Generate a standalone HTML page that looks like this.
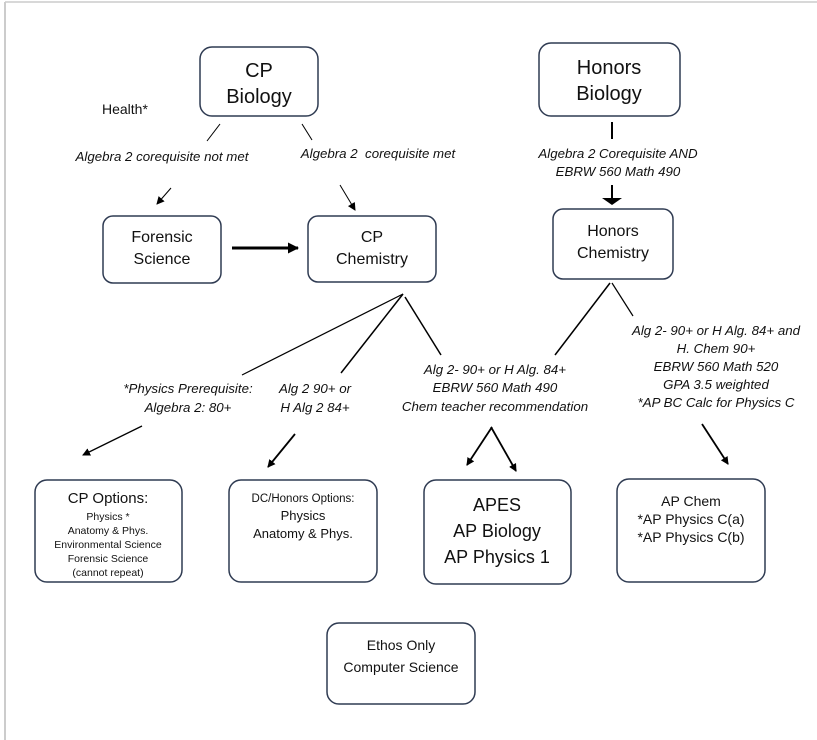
<!DOCTYPE html>
<html><head><meta charset="utf-8"><style>
body{margin:0;background:#fff;}
svg{display:block;font-family:"Liberation Sans",sans-serif;}
.b{fill:#fff;stroke:#2f3b52;stroke-width:1.5;}
.i{font-style:italic;font-size:13.3px;fill:#111;}
.t{fill:#111;}
</style></head><body>
<svg width="817" height="740" viewBox="0 0 817 740">
<defs>
<marker id="a" markerWidth="8" markerHeight="8" refX="7" refY="4" orient="auto" markerUnits="userSpaceOnUse"><path d="M0,0 L8,4 L0,8 z" fill="#000"/></marker>
<marker id="a2" markerWidth="11" markerHeight="11" refX="10" refY="5.5" orient="auto" markerUnits="userSpaceOnUse"><path d="M0,0 L11,5.5 L0,11 z" fill="#000"/></marker>
</defs>
<line x1="5" y1="2" x2="5" y2="740" stroke="#bbb" stroke-width="1.5"/>
<line x1="5" y1="2" x2="817" y2="2" stroke="#ccc" stroke-width="1.5"/>

<rect class="b" x="200" y="47" width="118" height="69" rx="12"/>
<text class="t" font-size="20" text-anchor="middle" x="259" y="77">CP</text>
<text class="t" font-size="20" text-anchor="middle" x="259" y="103">Biology</text>
<rect class="b" x="539" y="43" width="141" height="73" rx="12"/>
<text class="t" font-size="20" text-anchor="middle" x="609" y="74">Honors</text>
<text class="t" font-size="20" text-anchor="middle" x="609" y="100">Biology</text>
<text class="t" font-size="14" x="102" y="114">Health*</text>

<line x1="220" y1="124" x2="207" y2="141" stroke="#000"/>
<line x1="302" y1="124" x2="312" y2="140" stroke="#000"/>
<text class="i" text-anchor="middle" x="162" y="161">Algebra 2 corequisite not met</text>
<text class="i" text-anchor="middle" x="378" y="158">Algebra 2&#160; corequisite met</text>
<line x1="171" y1="188" x2="157" y2="204" stroke="#000" marker-end="url(#a)"/>
<line x1="340" y1="185" x2="355" y2="210" stroke="#000" marker-end="url(#a)"/>

<line x1="612" y1="122" x2="612" y2="139" stroke="#000" stroke-width="2"/>
<text class="i" text-anchor="middle" x="618" y="158">Algebra 2 Corequisite AND</text>
<text class="i" text-anchor="middle" x="618" y="176">EBRW 560 Math 490</text>
<line x1="612" y1="185" x2="612" y2="198" stroke="#000" stroke-width="2"/>
<path d="M602,198 L622,198 L612,205 z" fill="#000"/>

<rect class="b" x="103" y="216" width="118" height="67" rx="10"/>
<text class="t" font-size="16" text-anchor="middle" x="162" y="242">Forensic</text>
<text class="t" font-size="16" text-anchor="middle" x="162" y="264">Science</text>
<line x1="232" y1="248" x2="298" y2="248" stroke="#000" stroke-width="3" marker-end="url(#a2)"/>
<rect class="b" x="308" y="216" width="128" height="66" rx="10"/>
<text class="t" font-size="16" text-anchor="middle" x="372" y="242">CP</text>
<text class="t" font-size="16" text-anchor="middle" x="372" y="264">Chemistry</text>
<rect class="b" x="553" y="209" width="120" height="70" rx="10"/>
<text class="t" font-size="16" text-anchor="middle" x="613" y="236">Honors</text>
<text class="t" font-size="16" text-anchor="middle" x="613" y="258">Chemistry</text>

<line x1="403" y1="294" x2="242" y2="375" stroke="#000" stroke-width="1.2"/>
<line x1="403" y1="294" x2="341" y2="373" stroke="#000" stroke-width="1.5"/>
<line x1="405" y1="297" x2="441" y2="355" stroke="#000" stroke-width="1.5"/>
<line x1="610" y1="283" x2="555" y2="355" stroke="#000" stroke-width="1.5"/>
<line x1="612" y1="283" x2="633" y2="316" stroke="#000" stroke-width="1.2"/>

<text class="i" text-anchor="middle" x="188" y="393">*Physics Prerequisite:</text>
<text class="i" text-anchor="middle" x="188" y="412">Algebra 2: 80+</text>
<text class="i" text-anchor="middle" x="315" y="393">Alg 2 90+ or</text>
<text class="i" text-anchor="middle" x="315" y="412">H Alg 2 84+</text>
<text class="i" text-anchor="middle" x="495" y="374">Alg 2- 90+ or H Alg. 84+</text>
<text class="i" text-anchor="middle" x="495" y="392">EBRW 560 Math 490</text>
<text class="i" text-anchor="middle" x="495" y="411">Chem teacher recommendation</text>
<text class="i" text-anchor="middle" x="716" y="335">Alg 2- 90+ or H Alg. 84+ and</text>
<text class="i" text-anchor="middle" x="716" y="353">H. Chem 90+</text>
<text class="i" text-anchor="middle" x="716" y="371">EBRW 560 Math 520</text>
<text class="i" text-anchor="middle" x="716" y="389">GPA 3.5 weighted</text>
<text class="i" text-anchor="middle" x="716" y="407">*AP BC Calc for Physics C</text>

<line x1="142" y1="426" x2="83" y2="455" stroke="#000" stroke-width="1.3" marker-end="url(#a)"/>
<line x1="295" y1="434" x2="268" y2="467" stroke="#000" stroke-width="1.8" marker-end="url(#a)"/>
<line x1="492" y1="427" x2="467" y2="465" stroke="#000" stroke-width="1.8" marker-end="url(#a)"/>
<line x1="491" y1="427" x2="516" y2="471" stroke="#000" stroke-width="1.8" marker-end="url(#a)"/>
<line x1="702" y1="424" x2="728" y2="464" stroke="#000" stroke-width="1.8" marker-end="url(#a)"/>

<rect class="b" x="35" y="480" width="147" height="102" rx="12"/>
<text class="t" font-size="15" text-anchor="middle" x="108" y="503">CP Options:</text>
<text class="t" font-size="10.5" text-anchor="middle" x="108" y="520">Physics *</text>
<text class="t" font-size="10.5" text-anchor="middle" x="108" y="534">Anatomy &amp; Phys.</text>
<text class="t" font-size="10.5" text-anchor="middle" x="108" y="548">Environmental Science</text>
<text class="t" font-size="10.5" text-anchor="middle" x="108" y="562">Forensic Science</text>
<text class="t" font-size="10.5" text-anchor="middle" x="108" y="576">(cannot repeat)</text>

<rect class="b" x="229" y="480" width="148" height="102" rx="12"/>
<text class="t" font-size="11.5" text-anchor="middle" x="303" y="502">DC/Honors Options:</text>
<text class="t" font-size="13" text-anchor="middle" x="303" y="520">Physics</text>
<text class="t" font-size="13" text-anchor="middle" x="303" y="538">Anatomy &amp; Phys.</text>

<rect class="b" x="424" y="480" width="147" height="104" rx="12"/>
<text class="t" font-size="18" text-anchor="middle" x="497" y="511">APES</text>
<text class="t" font-size="18" text-anchor="middle" x="497" y="537">AP Biology</text>
<text class="t" font-size="18" text-anchor="middle" x="497" y="563">AP Physics 1</text>

<rect class="b" x="617" y="479" width="148" height="103" rx="12"/>
<text class="t" font-size="14" text-anchor="middle" x="691" y="506">AP Chem</text>
<text class="t" font-size="14" text-anchor="middle" x="691" y="524">*AP Physics C(a)</text>
<text class="t" font-size="14" text-anchor="middle" x="691" y="542">*AP Physics C(b)</text>

<rect class="b" x="327" y="623" width="148" height="81" rx="12"/>
<text class="t" font-size="14" text-anchor="middle" x="401" y="650">Ethos Only</text>
<text class="t" font-size="14" text-anchor="middle" x="401" y="672">Computer Science</text>
</svg>
</body></html>
